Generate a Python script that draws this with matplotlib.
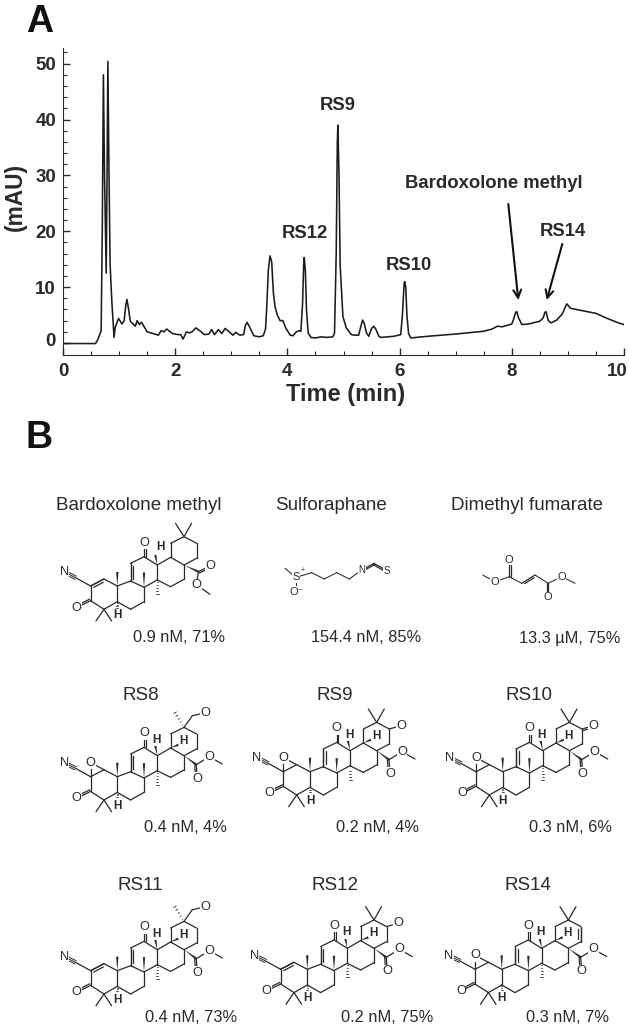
#!/usr/bin/env python
"""
Chromatogram (A) and compound structures with potency values (B).
"""

import matplotlib
matplotlib.use("Agg")
import matplotlib.pyplot as plt
from matplotlib.patches import Polygon
from matplotlib.transforms import ScaledTranslation
import numpy as np

plt.rcParams["font.family"] = ["Liberation Sans", "DejaVu Sans"]

# trace
time_min = [0.0, 0.3, 0.58, 0.62, 0.68, 0.70, 0.72, 0.74, 0.77, 0.785, 0.80, 0.82, 0.84, 0.87, 0.91, 0.93,
            0.99, 1.05, 1.09, 1.12, 1.14, 1.17, 1.2, 1.29, 1.32, 1.36, 1.40, 1.5, 1.6, 1.7, 1.75, 1.8,
            1.85, 1.95, 2.05, 2.1, 2.14, 2.2, 2.25, 2.3, 2.37, 2.45, 2.52, 2.6, 2.65, 2.7,
            2.77, 2.83, 2.89, 2.95, 3.03, 3.08, 3.15, 3.22, 3.25, 3.28, 3.33, 3.4, 3.5, 3.57, 3.61,
            3.63, 3.66, 3.69, 3.72, 3.75, 3.78, 3.82, 3.87, 3.92, 3.97, 4.05, 4.1, 4.15, 4.2, 4.24, 4.27,
            4.29, 4.30, 4.32, 4.34, 4.37, 4.42, 4.5, 4.6, 4.7, 4.81, 4.84, 4.87, 4.89, 4.90, 4.92, 4.94, 4.99, 5.05,
            5.14, 5.2, 5.27, 5.31, 5.34, 5.37, 5.41, 5.45, 5.50, 5.54, 5.58, 5.63, 5.67, 5.9, 6.02, 6.05, 6.08, 6.09,
            6.11, 6.13, 6.16, 6.2, 6.5, 7.0, 7.5, 7.65, 7.74, 7.83, 8.0, 8.03, 8.07, 8.09, 8.12, 8.18, 8.3,
            8.5, 8.56, 8.59, 8.61, 8.65, 8.7, 8.8, 8.9, 8.98, 9.05, 9.3, 9.5, 9.7, 9.9, 10.0]
mau = [-0.1, -0.1, -0.1, 0.6, 2.2, 20, 48, 30, 12.5, 30, 50.4, 30, 14, 7.5, 1.0, 2.8,
       4.4, 3.4, 4.0, 6.8, 7.8, 6.0, 3.9, 3.0, 4.0, 3.3, 3.7, 2.0, 1.7, 1.4, 2.2, 2.0,
       2.5, 1.7, 1.5, 1.5, 0.7, 2.0, 1.8, 2.0, 2.7, 2.1, 1.5, 1.6, 2.4, 1.5,
       2.4, 1.7, 2.6, 2.1, 1.4, 1.9, 1.4, 1.5, 3.1, 3.7, 2.8, 1.3, 1.1, 1.3, 2.5,
       6, 13, 15.6, 14.5, 9, 6.5, 5, 4.0, 4.0, 2.7, 1.4, 1.3, 1.9, 2.2, 2.1, 7,
       14, 15.3, 13, 6, 1.8, 1.0, 0.9, 1.1, 1.0, 1.1, 1.8, 16, 36, 39, 30, 14, 4.7, 2.7,
       1.5, 1.4, 1.4, 3.0, 4.1, 3.5, 1.8, 1.2, 2.6, 3.0, 2.4, 1.2, 1.0, 1.2, 1.5, 5, 10.5, 11,
       10, 5, 1.7, 0.9, 1.2, 1.6, 2.1, 2.5, 3.0, 2.9, 3.4, 4.2, 5.5, 5.6, 4.5, 3.3, 3.4,
       3.9, 4.5, 5.5, 5.6, 4.0, 3.6, 4.1, 5.2, 7.0, 6.2, 5.7, 5.3, 4.4, 3.6, 3.3]

peak_labels = ["RS12", "RS9", "RS10", "Bardoxolone methyl", "RS14"]
peak_label_xy = [(304.5, 233), (338, 106), (409, 265), (494, 184), (563, 232)]
arrow_ends = [((508.3, 204), (518.3, 300)), ((562.3, 244), (546.7, 300))]

compound_names = ["Bardoxolone methyl", "Sulforaphane", "Dimethyl fumarate",
                  "RS8", "RS9", "RS10", "RS11", "RS12", "RS14"]
compound_values = ["0.9 nM, 71%", "154.4 nM, 85%", "13.3 \u00b5M, 75%",
                   "0.4 nM, 4%", "0.2 nM, 4%", "0.3 nM, 6%",
                   "0.4 nM, 73%", "0.2 nM, 75%", "0.3 nM, 7%"]
name_xy = [(139, 505), (331, 505), (527, 505),
           (140.7, 695), (335, 695), (528.7, 695),
           (140, 886), (334.7, 886), (528, 886)]
value_xy = [(179, 638), (366, 638), (570, 638),
            (185, 828), (377, 828), (570.7, 828),
            (191, 1017), (387, 1017), (567, 1017)]

# triterpenoid core, pixel offsets from C10
core = {"c1": (-13.3, -7), "c2": (-26.7, 0), "c3": (-26.7, 14.7), "c4": (-13.3, 23.3),
        "c5": (0, 15.7), "c6": (13.3, 23.3), "c7": (26.7, 15.7), "c8": (26.7, 1.3),
        "c9": (13.3, -5), "c10": (0, 0), "c11": (13.3, -22.7), "c12": (26.7, -29.3),
        "c13": (40, -21), "c14": (40, -6), "c15": (53.3, 0.7), "c16": (66.7, -6.7),
        "c17": (66.7, -21), "c18": (53.3, -28.7), "c19": (53.3, -42.7), "c20": (66.7, -49.3),
        "c21": (79.3, -42.7), "c22": (79.3, -27.7)}
core_bonds = ["c1 c2", "c2 c3", "c3 c4", "c4 c5", "c5 c10", "c10 c1", "c5 c6", "c6 c7", "c7 c8",
              "c8 c9", "c9 c10", "c9 c11", "c11 c12", "c12 c13", "c13 c14", "c14 c8", "c13 c18",
              "c18 c17", "c17 c16", "c16 c15", "c15 c14", "c17 c22", "c22 c21", "c21 c20",
              "c20 c19", "c19 c18"]

# name: C10 position, A ring, E ring, ester orientation
triterpenoids = {"Bardoxolone methyl": ((117.3, 586), "enone", "gem", "down"),
                 "RS8": ((117.3, 776.7), "epoxide", "ol", "up"),
                 "RS9": ((310, 771.7), "epoxide", "c21o", "up"),
                 "RS10": ((502.7, 771.7), "epoxide", "c21keto", "up"),
                 "RS11": ((117.3, 970.7), "enone", "ol", "up"),
                 "RS12": ((307.3, 969.3), "enone", "c21o", "up"),
                 "RS14": ((501.7, 969.3), "epoxide", "ene", "up")}

sulforaphane_atoms = [(285, 568.3), (295.7, 577.3), (311.7, 572.7), (324.3, 579), (336.7, 572.7),
                      (349.3, 579), (361.7, 570)]
fumarate_atoms = [(482.7, 575), (495, 581.7), (509.3, 576.7), (521.7, 583.3), (535, 575),
                  (548.3, 583.3), (561.7, 576.7), (575, 583.3)]

ink = "#2a2a2a"
bond_lw = 0.9

fig = plt.figure(figsize=(6.29, 10.29), dpi=100)
W, H = 629, 1029

# panel A
ax = fig.add_axes([63 / W, 1 - 355 / H, 561 / W, 307 / H])
ax.plot(time_min, mau, color="#1c1c1c", lw=1.15, solid_joinstyle="round")
ax.set_xlim(0, 10)
ax.set_ylim(-2.15, 52.8)
ax.spines["top"].set_visible(False)
ax.spines["right"].set_visible(False)
ax.spines["left"].set_color(ink)
ax.spines["bottom"].set_color(ink)
ax.set_xticks([0, 2, 4, 6, 8, 10])
ax.set_yticks([0, 10, 20, 30, 40, 50])
ax.set_xticks(np.arange(0, 10.5, 0.5), minor=True)
ax.set_yticks(np.arange(0, 53, 2), minor=True)
ax.tick_params(axis="both", which="major", direction="in", length=5, width=1, color=ink)
ax.tick_params(axis="both", which="minor", direction="in", length=3, width=0.8, color=ink)
ax.tick_params(axis="x", which="major", pad=6)
ax.tick_params(axis="y", which="major", pad=5)
for t in ax.get_xticklabels() + ax.get_yticklabels():
    t.set_fontsize(13.5)
    t.set_fontweight("bold")
    t.set_color(ink)
# last x label stays inside the picture, 0 label sits a little high
last_x = ax.get_xticklabels()[-1]
last_x.set_transform(last_x.get_transform() + ScaledTranslation(-7 / 100, 0, fig.dpi_scale_trans))
first_y = ax.get_yticklabels()[0]
first_y.set_transform(first_y.get_transform() + ScaledTranslation(0, 3 / 100, fig.dpi_scale_trans))
ax.set_xlabel("Time (min)", fontsize=17, fontweight="bold", color=ink, va="center")
ax.set_ylabel("(mAU)", fontsize=16.4, fontweight="bold", color=ink, va="center")
ax.xaxis.set_label_coords((346 - 63) / 561, (355 - 395) / 307)
ax.yaxis.set_label_coords((15 - 63) / 561, (355 - 197) / 307)

# overlay in picture pixels for labels and structures
ov = fig.add_axes([0, 0, 1, 1], zorder=5)
ov.set_xlim(0, W)
ov.set_ylim(H, 0)
ov.axis("off")
ov.patch.set_alpha(0)


def line(p, q, lw=bond_lw):
    ov.plot([p[0], q[0]], [p[1], q[1]], color=ink, lw=lw, solid_capstyle="round")


def double(p, q, side=1.0, gap=2.6, shrink=0.14):
    p, q = np.array(p, float), np.array(q, float)
    d = q - p
    n = np.array([-d[1], d[0]]) / np.hypot(*d) * gap * side
    line(p, q)
    line(p + d * shrink + n, q - d * shrink + n)


def wedge(p, q, width=2.4):
    p, q = np.array(p, float), np.array(q, float)
    d = q - p
    n = np.array([-d[1], d[0]]) / np.hypot(*d) * width / 2
    ov.add_patch(Polygon([p, q + n, q - n], closed=True, color=ink, lw=0))


def hashed(p, q, width=3.0, count=5):
    p, q = np.array(p, float), np.array(q, float)
    d = q - p
    n = np.array([-d[1], d[0]]) / np.hypot(*d)
    for f in np.linspace(0.15, 1, count):
        c = p + d * f
        line(c - n * width * f / 2, c + n * width * f / 2, lw=0.6)


def atom(p, s, size=9.2, weight="normal"):
    ov.text(p[0], p[1], s, fontsize=size, color=ink, ha="center", va="center", fontweight=weight,
            bbox=dict(facecolor="white", edgecolor="none", pad=0.3), zorder=6)


def triterpenoid(origin, a_ring, e_ring, ester):
    at = {k: (origin[0] + v[0], origin[1] + v[1]) for k, v in core.items()}
    off = lambda dx, dy: (origin[0] + dx, origin[1] + dy)
    for b in core_bonds:
        p, q = b.split()
        line(at[p], at[q])
    double(at["c9"], at["c11"], side=1)
    double(at["c12"], off(26.7, -43.3), gap=1.6, shrink=0.0)
    atom(off(26.7, -43.3), "O")
    double(at["c3"], off(-40.7, 21.7), side=1, gap=1.8, shrink=0.0)
    atom(off(-40.7, 21.7), "O")
    # methyls and stereo bonds
    wedge(at["c10"], off(0, -14))
    wedge(at["c8"], off(26.7, -13.5))
    hashed(at["c14"], off(40, 8))
    line(at["c4"], off(-21.3, 35))
    line(at["c4"], off(-5.7, 35))
    hashed(at["c5"], off(0, 24))
    atom(off(0, 29), "H", size=8.5, weight="bold")
    wedge(at["c13"], off(38, -31))
    atom(off(43, -39) if e_ring == "gem" else off(39, -37), "H", size=8.5, weight="bold")
    if e_ring != "gem":
        wedge(at["c18"], off(61, -32))
        atom(off(66, -36), "H", size=8.5, weight="bold")
    # cyano group, triple bond towards N
    cn = np.array(off(-53, -13.7))
    c_end = np.array(off(-41.7, -8.3))
    t_end = np.array(off(-49, -12))
    line(at["c2"], c_end)
    d = t_end - c_end
    n = np.array([-d[1], d[0]]) / np.hypot(*d) * 1.7
    for s in (-1, 0, 1):
        line(c_end + n * s, t_end + n * s, lw=0.7)
    atom(cn, "N")
    # A ring
    if a_ring == "enone":
        double(at["c1"], at["c2"], side=-1)
    else:
        o = off(-26.7, -14)
        line(at["c2"], o)
        line(at["c1"], o)
        atom(o, "O")
    # E ring
    if e_ring in ("gem", "c21o", "c21keto", "ene"):
        line(at["c20"], off(58.3, -62.7))
        line(at["c20"], off(74.3, -62.7))
    if e_ring == "ol":
        hashed(at["c20"], off(57.7, -64))
        line(at["c20"], off(75, -61))
        line(off(75, -61), off(84, -63))
        atom(off(88.3, -63.3), "O")
    if e_ring == "c21o":
        line(at["c21"], off(91, -46))
        atom(off(91, -46), "O")
    if e_ring == "c21keto":
        double(at["c21"], off(91, -46), gap=1.8, shrink=0.0)
        atom(off(91, -46), "O")
    if e_ring == "ene":
        double(at["c21"], at["c22"], side=1)
    # ester on C17
    if ester == "down":
        c28 = off(81, -14.3)
        wedge(at["c17"], c28)
        double(c28, off(92.7, -20), gap=1.6, shrink=0.0)
        atom(off(92.7, -20), "O")
        line(c28, off(79.3, -1))
        line(off(79.3, -1), off(92.7, 8.3))
        atom(off(79.3, -1), "O")
    else:
        c28 = off(79, -12)
        wedge(at["c17"], c28)
        double(c28, off(80, 2), gap=1.6, shrink=0.0)
        atom(off(80, 2), "O")
        line(c28, off(92, -20))
        line(off(92, -20), off(105, -12.7))
        atom(off(92, -20), "O")


for label, xy in zip(peak_labels, peak_label_xy):
    ov.text(xy[0], xy[1], label, fontsize=13.3, fontweight="bold", color=ink, ha="center", va="center")
for start, end in arrow_ends:
    ov.annotate("", xy=end, xytext=start,
                arrowprops=dict(arrowstyle="->", color="#111111", lw=1.5, shrinkA=0, shrinkB=0,
                                mutation_scale=14))

ov.text(26, 32, "A", fontsize=27, fontweight="bold", color="#111111", ha="left", va="baseline")
ov.text(26, 448, "B", fontsize=27, fontweight="bold", color="#111111", ha="left", va="baseline")

for name, value, p, q in zip(compound_names, compound_values, name_xy, value_xy):
    ov.text(p[0], p[1], name, fontsize=13.5, color=ink, ha="center", va="center")
    ov.text(q[0], q[1], value, fontsize=11.8, color=ink, ha="center", va="center")

for name, (origin, a_ring, e_ring, ester) in triterpenoids.items():
    triterpenoid(origin, a_ring, e_ring, ester)

# sulforaphane
for p, q in zip(sulforaphane_atoms[:-1], sulforaphane_atoms[1:]):
    line(p, q, lw=0.75)
line(sulforaphane_atoms[1], (295.7, 591.7), lw=0.75)
double(sulforaphane_atoms[-1], (374, 563.3), gap=1.5, shrink=0.0)
double((374, 563.3), (386.7, 570.7), gap=1.5, shrink=0.0)
atom(sulforaphane_atoms[1], "S", size=8)
atom((297, 591.7), "O\u207b", size=8)
atom(sulforaphane_atoms[-1], "N", size=7)
atom((386.7, 570.7), "S", size=7)
ov.text(302.7, 570.5, "+", fontsize=5, color=ink, ha="center", va="center")

# dimethyl fumarate
for p, q in zip(fumarate_atoms[:-1], fumarate_atoms[1:]):
    if p[0] == 521.7:
        double(p, q, side=1, gap=1.8)
    else:
        line(p, q, lw=0.75)
double(fumarate_atoms[2], (509.3, 560), gap=1.5, shrink=0.0)
double(fumarate_atoms[5], (548.3, 597.3), gap=1.5, shrink=0.0)
for p in [fumarate_atoms[1], fumarate_atoms[6], (509.3, 560), (548.3, 597.3)]:
    atom(p, "O", size=8)

fig.savefig("out.png", dpi=100)
